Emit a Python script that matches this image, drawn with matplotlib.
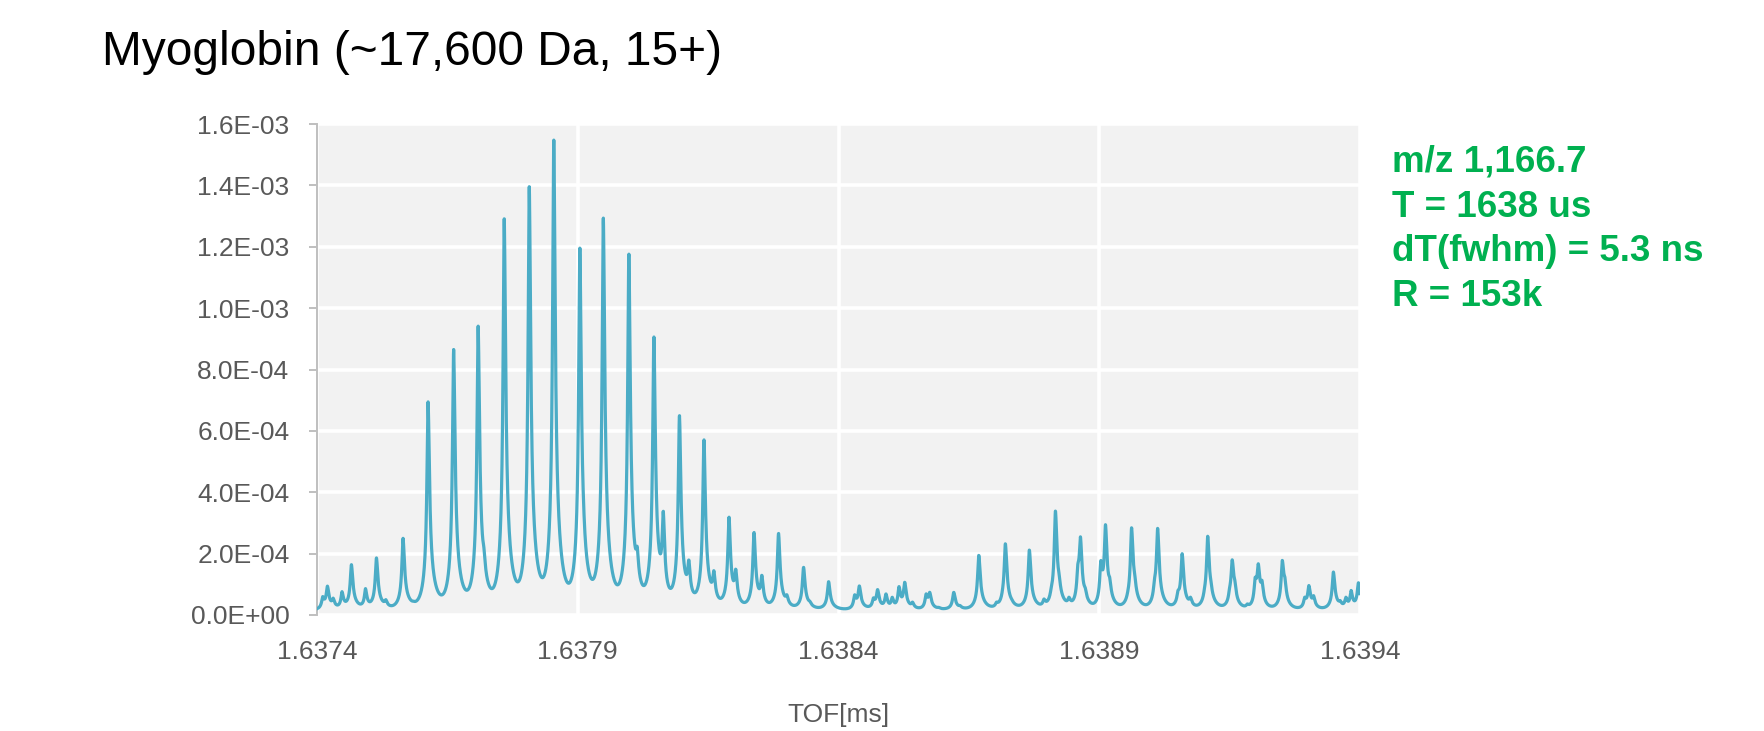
import numpy as np
import matplotlib
matplotlib.use("Agg")
import matplotlib.pyplot as plt

# ---------------- data ----------------
# main isotopic peaks: time-of-flight (ms) and apex intensity
peak_tof = [1.637420, 1.637466, 1.637514, 1.637565, 1.637613, 1.637662, 1.637709,
            1.637759, 1.637807, 1.637854, 1.637904, 1.637949, 1.637998, 1.638046,
            1.638095, 1.638142, 1.638190, 1.638238, 1.638285, 1.638333, 1.638381,
            1.638440, 1.638475, 1.638527, 1.638575, 1.638621, 1.638669, 1.638720,
            1.638766, 1.638816, 1.638864, 1.638912, 1.638962, 1.639012, 1.639059,
            1.639108, 1.639155, 1.639205, 1.639251, 1.639302, 1.639349, 1.639397]
peak_int = [0.94e-4, 1.64e-4, 1.86e-4, 2.50e-4, 6.95e-4, 8.47e-4, 9.42e-4,
            1.293e-3, 1.385e-3, 1.546e-3, 1.198e-3, 1.273e-3, 1.179e-3, 9.09e-4,
            6.52e-4, 5.73e-4, 3.20e-4, 2.70e-4, 2.67e-4, 1.56e-4, 1.09e-4,
            0.95e-4, 0.83e-4, 1.07e-4, 0.74e-4, 0.74e-4, 1.95e-4, 2.33e-4,
            2.11e-4, 3.40e-4, 2.55e-4, 2.95e-4, 2.85e-4, 2.80e-4, 2.00e-4,
            2.57e-4, 1.80e-4, 1.67e-4, 1.78e-4, 0.96e-4, 1.40e-4, 1.05e-4]

# small spikes / shoulders visible in the trace
minor_tof = [1.637411, 1.637431, 1.637448, 1.637493, 1.637532, 1.637585,
             1.637669, 1.637720, 1.637816, 1.637864, 1.637911, 1.637956,
             1.638014, 1.638064, 1.638113, 1.638161, 1.638203, 1.638253,
             1.638301, 1.638345, 1.638431, 1.638467, 1.638491, 1.638503,
             1.638516, 1.638542, 1.638568, 1.638592, 1.638633, 1.638677,
             1.638703, 1.638715, 1.638732, 1.638773, 1.638794, 1.638808,
             1.638823, 1.638842, 1.638859, 1.638873, 1.638903, 1.638920,
             1.638955, 1.638968, 1.639006, 1.639020, 1.639051, 1.639075,
             1.639102, 1.639114, 1.639150, 1.639160, 1.639184, 1.639199,
             1.639212, 1.639256, 1.639294, 1.639311, 1.639362, 1.639373,
             1.639383]
minor_int = [0.60e-4, 0.55e-4, 0.76e-4, 0.86e-4, 0.50e-4, 0.45e-4,
             1.30e-4, 2.20e-4, 1.80e-4, 2.55e-4, 3.75e-4, 2.20e-4,
             2.23e-4, 3.40e-4, 1.80e-4, 1.45e-4, 1.50e-4, 1.30e-4,
             0.66e-4, 0.45e-4, 0.66e-4, 0.56e-4, 0.69e-4, 0.58e-4,
             0.93e-4, 0.42e-4, 0.69e-4, 0.25e-4, 0.31e-4, 0.58e-4,
             0.42e-4, 0.90e-4, 0.52e-4, 0.63e-4, 0.52e-4, 0.90e-4,
             1.34e-4, 0.58e-4, 1.67e-4, 0.90e-4, 1.78e-4, 1.23e-4,
             0.80e-4, 1.34e-4, 1.18e-4, 0.58e-4, 0.80e-4, 0.58e-4,
             0.90e-4, 1.13e-4, 0.90e-4, 1.13e-4, 0.36e-4, 1.23e-4,
             1.13e-4, 1.23e-4, 0.58e-4, 0.63e-4, 0.47e-4, 0.58e-4,
             0.80e-4]

baseline = 1.5e-5

x_ticks = [1.6374, 1.6379, 1.6384, 1.6389, 1.6394]
x_tick_labels = ["1.6374", "1.6379", "1.6384", "1.6389", "1.6394"]
y_ticks = [0.0, 2e-4, 4e-4, 6e-4, 8e-4, 1.0e-3, 1.2e-3, 1.4e-3, 1.6e-3]
y_tick_labels = ["0.0E+00", "2.0E-04", "4.0E-04", "6.0E-04", "8.0E-04",
                 "1.0E-03", "1.2E-03", "1.4E-03", "1.6E-03"]

title = "Myoglobin (~17,600 Da, 15+)"
notes = ["m/z 1,166.7", "T = 1638 us", "dT(fwhm) = 5.3 ns", "R = 153k"]
x_label = "TOF[ms]"

# ---------------- build the trace from the read peaks ----------------
n_main, n_minor = len(peak_tof), len(minor_tof)
centers = np.array(peak_tof + minor_tof)
heights = np.array(peak_int + minor_int)
core_l = np.array([2.6e-6] * n_main + [2.4e-6] * n_minor)
core_r = np.array([3.2e-6] * n_main + [3.0e-6] * n_minor)
skirt_l = np.array([8.0e-6] * n_main + [5.0e-6] * n_minor)
skirt_r = np.array([1.1e-5] * n_main + [6.0e-6] * n_minor)
skirt_w = 0.30


def shape(tt, c, cl, cr, sl, sr):
    d = tt - c
    left = d < 0
    g = np.where(left, cl, cr)
    tau = np.where(left, sl, sr)
    return (1 - skirt_w) / (1.0 + (d / g) ** 2) + skirt_w * np.exp(-np.abs(d) / tau)


A = shape(centers[:, None], centers[None, :], core_l[None, :], core_r[None, :],
          skirt_l[None, :], skirt_r[None, :])
amps = np.linalg.solve(A, heights - baseline)
amps = np.clip(amps, 0, None)

t = np.linspace(1.6374, 1.6394, 6000)
signal = baseline + (amps[None, :] * shape(t[:, None], centers[None, :],
                                           core_l[None, :], core_r[None, :],
                                           skirt_l[None, :], skirt_r[None, :])).sum(axis=1)

# ---------------- draw ----------------
W, H = 1765, 731
fig = plt.figure(figsize=(W / 100, H / 100), dpi=100)
ax = fig.add_axes([317 / W, 1 - 615 / H, (1360 - 317) / W, (615 - 124) / H])

font = "Liberation Sans"
grey_txt = "#595959"
axis_grey = "#bfbfbf"

ax.set_facecolor("#f2f2f2")
ax.plot(t, signal, color="#4bacc6", lw=2.3, zorder=3, solid_joinstyle="round")

ax.set_xlim(1.6374, 1.6394)
ax.set_ylim(0, 1.6e-3)
ax.set_xticks(x_ticks)
ax.set_xticklabels(x_tick_labels, fontsize=19, family=font, color=grey_txt)
ax.set_yticks(y_ticks)
ax.set_yticklabels(y_tick_labels, fontsize=19, family=font, color=grey_txt)

ax.grid(True, color="white", lw=2.6, zorder=1)
ax.set_axisbelow(True)
for s in ["top", "right", "bottom"]:
    ax.spines[s].set_visible(False)
ax.spines["left"].set_color(axis_grey)
ax.spines["left"].set_linewidth(1.4)
ax.tick_params(axis="y", length=5.8, width=1.4, color=axis_grey, pad=14)
ax.tick_params(axis="x", length=0, pad=18)

fig.text(838 / W, 1 - 715 / H, x_label, ha="center", va="center",
         fontsize=19, family=font, color=grey_txt)

fig.text(102 / W, 1 - 65 / H, title, ha="left", va="baseline",
         fontsize=34.5, family=font, color="black")

baselines = [171.7, 216.7, 261.0, 305.7]
for txt, yb in zip(notes, baselines):
    fig.text(1392 / W, 1 - yb / H, txt, ha="left", va="baseline",
             fontsize=26.5, family=font, fontweight="bold", color="#00b050")

fig.savefig("out.png", dpi=100)
